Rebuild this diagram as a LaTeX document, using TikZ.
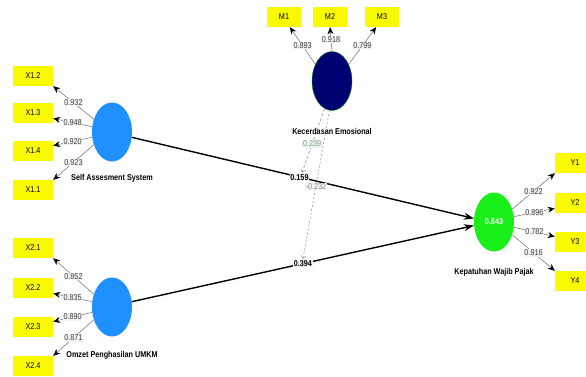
\documentclass[tikz,border=0pt]{standalone}
\usepackage{fontspec}
\setmainfont{Liberation Sans}
\newfontfamily\lblfont[FakeStretch=0.85]{Liberation Sans}
\usetikzlibrary{arrows.meta,shapes.geometric}
\definecolor{boxyellow}{RGB}{250,250,0}
\definecolor{latblue}{RGB}{30,144,255}
\definecolor{latnavy}{RGB}{0,0,115}
\definecolor{latgreen}{RGB}{25,240,25}
\definecolor{lblgrey}{RGB}{60,60,60}
\definecolor{lblbg}{RGB}{243,243,243}
\definecolor{modgreen}{RGB}{125,160,125}
\tikzset{
  ind/.style={fill=boxyellow, minimum width=40pt, minimum height=20pt, inner sep=0pt,
    font=\lblfont\fontsize{8.5}{9}\selectfont},
  mind/.style={ind, minimum width=34pt},
  lat/.style={ellipse, minimum width=40pt, minimum height=59pt, inner sep=0pt},
  ldg/.style={-{Stealth[length=7pt,width=6pt,color=black]}, draw=black!55, line width=0.55pt},
  wt/.style={fill=lblbg, text=lblgrey, inner sep=0.7pt, font=\lblfont\fontsize{8.5}{9}\selectfont},
  pth/.style={-{Stealth[length=10pt,width=7pt]}, line width=1.4pt},
  pwt/.style={wt, text=black, font=\lblfont\bfseries\fontsize{8.5}{9}\selectfont},
  modline/.style={-{Straight Barb[length=3pt,width=5pt]}, draw=black!40, line width=0.6pt},
  latname/.style={font=\lblfont\bfseries\fontsize{8.5}{9}\selectfont}
}
\begin{document}
\begin{tikzpicture}[x=1pt,y=-1pt]
\useasboundingbox (0,0) rectangle (586,376);
\clip (0,0) rectangle (586,376);

\node[lat, fill=latblue] (sas) at (112,132) {};
\node[lat, fill=latblue] (opu) at (112,307) {};
\node[lat, fill=latnavy, draw=green!55!black, line width=0.4pt] (ke) at (332,81) {};
\node[lat, fill=latgreen, text=white, font=\lblfont\bfseries\fontsize{8.5}{9}\selectfont] (kwp) at (494,222) {0.843};

\node[latname] (sasname) at (112,178) {Self Assesment System};
\node[latname] (opuname) at (112,355) {Omzet Penghasilan UMKM};
\node[latname] (kwpname) at (494,272) {Kepatuhan Wajib Pajak};

\node[ind] (x12) at (33,76) {X1.2};
\node[ind] (x13) at (33,113) {X1.3};
\node[ind] (x14) at (33,151) {X1.4};
\node[ind] (x11) at (33,190) {X1.1};

\node[ind] (x21) at (33,248) {X2.1};
\node[ind] (x22) at (33,288) {X2.2};
\node[ind] (x23) at (33,327) {X2.3};
\node[ind] (x24) at (33,366) {X2.4};

\node[mind] (m1) at (284,17) {M1};
\node[mind] (m2) at (330,17) {M2};
\node[mind] (m3) at (382,17) {M3};

\node[ind] (y1) at (575,163) {Y1};
\node[ind] (y2) at (575,203) {Y2};
\node[ind] (y3) at (575,242) {Y3};
\node[ind] (y4) at (575,281) {Y4};

\draw[ldg] (sas.145) -- node[wt]{0.932} (x12.south east);
\draw[ldg] (sas.165) -- node[wt]{0.948} (x13.-15);
\draw[ldg] (sas.195) -- node[wt]{0.920} (x14.15);
\draw[ldg] (sas.215) -- node[wt]{0.923} (x11.north east);

\draw[ldg] (opu.145) -- node[wt]{0.852} (x21.south east);
\draw[ldg] (opu.165) -- node[wt]{0.835} (x22.-15);
\draw[ldg] (opu.195) -- node[wt]{0.890} (x23.15);
\draw[ldg] (opu.215) -- node[wt]{0.871} (x24.north east);

\draw[ldg] (ke.135) -- node[wt]{0.893} (m1.-60);
\draw[ldg] (ke.north) -- node[wt]{0.918} (m2.south);
\draw[ldg] (ke.45) -- node[wt]{0.799} (m3.-120);

\draw[ldg] (kwp.35) -- node[wt]{0.922} (y1.south west);
\draw[ldg] (kwp.15) -- node[wt]{0.896} (y2.195);
\draw[ldg] (kwp.-15) -- node[wt]{0.782} (y3.165);
\draw[ldg] (kwp.-35) -- node[wt]{0.916} (y4.north west);

\draw[pth] (sas.-15) -- node[pwt, pos=0.49] (p1) {0.159} (kwp.170);
\draw[pth] (opu.15) -- node[pwt, pos=0.5] (p2) {0.394} (kwp.190);

\draw[modline, dash pattern=on 3pt off 2pt] (ke.255) -- node[wt, pos=0.55, text=modgreen] {0.239} (p1.60);
\draw[modline, dash pattern=on 2pt off 2pt] (ke.265) -- node[wt, pos=0.51, text=black!45] {-0.232} (p2.north);

\node[latname] (kename) at (332,131) {Kecerdasan Emosional};
\end{tikzpicture}
\end{document}
